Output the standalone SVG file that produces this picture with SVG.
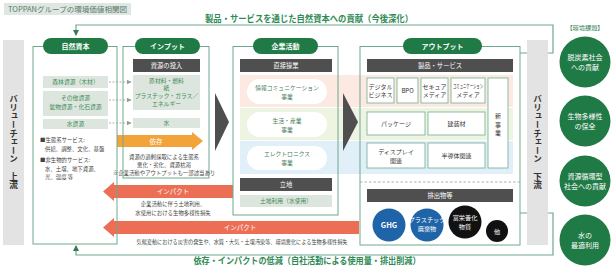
<svg xmlns="http://www.w3.org/2000/svg" width="616" height="269" viewBox="0 0 616 269">
<defs>
<style>
text{font-family:"Noto Sans CJK JP","Noto Sans",sans-serif;}
.box{fill:none;stroke:#6fa88e;stroke-width:1;}
.pill{fill:#1f7a45;}
.pillt{fill:#fff;font-size:7px;font-weight:bold;text-anchor:middle;}
.hdr{fill:#4f4f4f;}
.hdrt{fill:#fff;font-size:6.3px;text-anchor:middle;}
.item{fill:#dce6de;}
.itemt{fill:#3f8a57;font-size:5.8px;text-anchor:middle;}
.prod{fill:#fff;stroke:#7fb59a;stroke-width:0.9;}
.prodt{fill:#333;font-size:6px;text-anchor:middle;}
.bizp{fill:#fff;}
.bizt{fill:#4a7d5a;font-size:5.8px;text-anchor:middle;}
.small{fill:#444;font-size:5.4px;}
.conn{fill:none;stroke:#6fa88e;stroke-width:1.2;}
.dash{fill:none;stroke:#9a9a9a;stroke-width:0.8;stroke-dasharray:2 1.5;}
.arwt{fill:#fff;font-size:6.5px;text-anchor:middle;}
.bar{fill:#e3e3e3;}
.vt{fill:#333;font-size:8.6px;font-weight:bold;writing-mode:vertical-rl;text-anchor:middle;}
.issue{fill:#1f7a45;}
.issuet{fill:#fff;font-size:7px;text-anchor:middle;}
.emt{fill:#fff;font-size:6.2px;text-anchor:middle;}
.chev{fill:#4f4f4f;}
.band{stroke:none;}
</style>
<marker id="ahG" markerWidth="6" markerHeight="6" refX="5" refY="3" orient="auto" markerUnits="userSpaceOnUse"><path d="M0,0 L6,3 L0,6 Z" fill="#2f7f52"/></marker>
<marker id="ahGray" markerWidth="5" markerHeight="5" refX="4.5" refY="2.5" orient="auto" markerUnits="userSpaceOnUse"><path d="M0,0 L5,2.5 L0,5 Z" fill="#9a9a9a"/></marker>
</defs>

<rect width="616" height="269" fill="#fff"/>

<g id="title">
<rect x="4" y="3" width="127" height="12" fill="#dfe7e2"/>
<text x="8" y="12" font-size="7.2" fill="#557a66" textLength="119" lengthAdjust="spacingAndGlyphs">TOPPANグループの環境価値相関図</text>
</g>

<g id="bands">
<rect class="band" x="240" y="75" width="273" height="32" fill="#fce9e2"/>
<rect class="band" x="240" y="108" width="273" height="32" fill="#eef4e2"/>
<rect class="band" x="240" y="141" width="273" height="33" fill="#e1eff9"/>
</g>

<g id="connectors">
<path class="conn" d="M520,53 H553 V25 H76 V35" marker-end="url(#ahG)"/>
<text x="309" y="22" font-size="9" font-weight="bold" fill="#2f8a55" text-anchor="middle" textLength="208" lengthAdjust="spacingAndGlyphs">製品・サービスを通じた自然資本への貢献（今後深化）</text>
<path class="conn" d="M520,213 H553 V255 H76 V246" marker-end="url(#ahG)"/>
<text x="307" y="264" font-size="9" font-weight="bold" fill="#2f8a55" text-anchor="middle" textLength="227" lengthAdjust="spacingAndGlyphs">依存・インパクトの低減（自社活動による使用量・排出削減）</text>
<path class="dash" d="M109,82 H131" marker-end="url(#ahGray)"/>
<path class="dash" d="M109,100 H131" marker-end="url(#ahGray)"/>
<path class="dash" d="M109,123 H131" marker-end="url(#ahGray)"/>
<polygon class="chev" points="215,93 229,122 215,151"/>
<polygon class="chev" points="343,93 358,122 343,151"/>
<g id="dependency">
<polygon points="117,135 192,135 192,132 203,141 192,150 192,147 117,147" fill="#f2a33a"/>
<text class="arwt" x="156" y="143.5">依存</text>
</g>
<g id="impact1">
<polygon points="103,191.5 114,182 114,185 233,185 233,198 114,198 114,201" fill="#ec6f55"/>
<text class="arwt" x="173" y="194">インパクト</text>
</g>
<g id="impact2">
<polygon points="103,227.5 114,218 114,221 359,221 359,234 114,234 114,237" fill="#ec6f55"/>
<text class="arwt" x="240" y="230">インパクト</text>
</g>
</g>

<g id="vc-upstream">
<rect class="bar" x="3" y="40" width="21" height="205"/>
<text class="vt" x="13.5" y="142">バリューチェーン　上流</text>
</g>

<g id="natural-capital">
<rect class="box" x="33" y="46.5" width="84" height="197.5"/>
<rect class="pill" x="43" y="38" width="65" height="16" rx="8"/>
<text class="pillt" x="75.5" y="48.5">自然資本</text>
<rect class="item" x="43" y="76" width="65" height="12"/>
<text class="itemt" x="75.5" y="84">森林資源（木材）</text>
<rect class="item" x="43" y="91" width="65" height="25"/>
<text class="itemt" x="75.5" y="100">その他資源</text>
<text class="itemt" x="75.5" y="108.5" font-size="4.8">鉱物資源・化石資源</text>
<rect class="item" x="43" y="119" width="65" height="10"/>
<text class="itemt" x="75.5" y="126">水資源</text>
<text class="small" x="40" y="142" fill="#2f5a44">■生態系サービス:</text>
<text class="small" x="45" y="151">供給、調整、文化、基盤</text>
<text class="small" x="40" y="162" fill="#2f5a44">■非生物的サービス:</text>
<text class="small" x="45" y="170.5">水、土壌、地下資源、</text>
<text class="small" x="45" y="179">光、温度 等</text>
</g>

<g id="input">
<rect class="box" x="123" y="46.5" width="86" height="131.5"/>
<rect class="pill" x="135" y="38" width="65" height="16" rx="8"/>
<text class="pillt" x="167.5" y="48.5">インプット</text>
<rect class="hdr" x="133" y="59" width="67" height="13"/>
<text class="hdrt" x="166.5" y="68">資源の投入</text>
<rect class="item" x="133" y="75" width="67" height="35"/>
<text class="itemt" x="166.5" y="82.5" font-size="5.3">原材料・燃料</text>
<text class="itemt" x="166.5" y="90" font-size="5.3">紙</text>
<text class="itemt" x="166.5" y="97.5" font-size="4.6">プラスチック・ガラス／</text>
<text class="itemt" x="166.5" y="105.5" font-size="4.6">エネルギー</text>
<rect class="item" x="133" y="118" width="67" height="10"/>
<text class="itemt" x="166.5" y="125">水</text>
<text class="small" x="164" y="159" text-anchor="middle" fill="#333">資源の過剰採取による生態系</text>
<text class="small" x="164" y="166.5" text-anchor="middle" fill="#333">悪化・劣化、資源枯渇</text>
<text class="small" x="164" y="174.5" text-anchor="middle" font-size="4.3" fill="#333">※企業活動やアウトプットも一部該当あり</text>
</g>

<g id="impact-notes">
<text class="small" x="173" y="206" text-anchor="middle" fill="#333">企業活動に伴う土地利用、</text>
<text class="small" x="173" y="214.5" text-anchor="middle" fill="#333">水使用における生物多様性損失</text>
<text class="small" x="242" y="243.5" text-anchor="middle" fill="#333" textLength="211" lengthAdjust="spacingAndGlyphs">気候変動における災害の発生や、水質・大気・土壌汚染等、環境悪化による生物多様性損失</text>
</g>

<g id="corporate">
<rect class="box" x="233" y="46.5" width="105" height="168.5"/>
<rect class="pill" x="253" y="38" width="65" height="16" rx="8"/>
<text class="pillt" x="285.5" y="48.5">企業活動</text>
<rect class="hdr" x="240" y="59" width="92" height="13"/>
<text class="hdrt" x="286" y="68">直接操業</text>
<rect class="bizp" x="247" y="79" width="80" height="25" rx="12.5"/>
<text class="bizt" x="287" y="89.5">情報コミュニケーション</text>
<text class="bizt" x="287" y="98.5">事業</text>
<rect class="bizp" x="247" y="112" width="80" height="25" rx="12.5"/>
<text class="bizt" x="287" y="122.5">生活・産業</text>
<text class="bizt" x="287" y="131.5">事業</text>
<rect class="bizp" x="247" y="146" width="80" height="24" rx="12"/>
<text class="bizt" x="287" y="156">エレクトロニクス</text>
<text class="bizt" x="287" y="165">事業</text>
<rect class="hdr" x="240" y="178" width="92" height="13"/>
<text class="hdrt" x="286" y="187">立地</text>
<rect class="item" x="240" y="195" width="92" height="12"/>
<text class="itemt" x="286" y="203">土地利用（水使用）</text>
</g>

<g id="output">
<rect class="box" x="360" y="46.5" width="160" height="198.5"/>
<rect class="pill" x="403" y="38" width="79" height="16" rx="8"/>
<text class="pillt" x="442.5" y="48.5">アウトプット</text>
<rect class="hdr" x="367" y="59" width="146" height="13"/>
<text class="hdrt" x="440" y="68">製品・サービス</text>
<rect class="prod" x="367" y="78" width="27" height="25"/>
<text class="prodt" x="380.5" y="88.5">デジタル</text>
<text class="prodt" x="380.5" y="97">ビジネス</text>
<rect class="prod" x="397" y="78" width="21" height="25"/>
<text class="prodt" x="407.5" y="93" font-family="Liberation Serif, serif">BPO</text>
<rect class="prod" x="421" y="78" width="27" height="25"/>
<text class="prodt" x="434.5" y="88.5">セキュア</text>
<text class="prodt" x="434.5" y="97">メディア</text>
<rect class="prod" x="451" y="78" width="34" height="25"/>
<text class="prodt" x="468" y="88" font-size="4.3" textLength="30" lengthAdjust="spacingAndGlyphs">コミュニケーション</text>
<text class="prodt" x="468" y="97">メディア</text>
<rect class="prod" x="488" y="78" width="20" height="90"/>
<text class="prodt" x="498" font-size="6.5"><tspan x="498" y="118">新</tspan><tspan x="498" y="126.5">事</tspan><tspan x="498" y="135">業</tspan></text>
<rect class="prod" x="367" y="112" width="58" height="23"/>
<text class="prodt" x="396" y="126">パッケージ</text>
<rect class="prod" x="428" y="112" width="57" height="23"/>
<text class="prodt" x="456.5" y="126">建装材</text>
<rect class="prod" x="367" y="143" width="58" height="25"/>
<text class="prodt" x="396" y="153.5">ディスプレイ</text>
<text class="prodt" x="396" y="162.5">関連</text>
<rect class="prod" x="428" y="143" width="57" height="25"/>
<text class="prodt" x="456.5" y="158">半導体関連</text>
<line x1="360" y1="182" x2="520" y2="182" stroke="#999" stroke-width="0.8" stroke-dasharray="2.5 2"/>
<rect class="hdr" x="367" y="189" width="146" height="13"/>
<text class="hdrt" x="440" y="198">排出物等</text>
<circle cx="389" cy="225" r="16.5" fill="#1f64a8"/>
<text x="389" y="228" fill="#fff" font-size="7.5" font-weight="bold" text-anchor="middle" font-family="Liberation Serif, serif">GHG</text>
<circle cx="427" cy="225" r="16.5" fill="#1f64a8"/>
<text class="emt" x="427" y="222">プラスチック</text>
<text class="emt" x="427" y="231">廃棄物</text>
<circle cx="465" cy="222" r="16.5" fill="#111"/>
<text class="emt" x="465" y="219.5">富栄養化</text>
<text class="emt" x="465" y="228.5">物質</text>
<circle cx="497" cy="231" r="11" fill="#111"/>
<text class="emt" x="497" y="233.5">他</text>
</g>

<g id="vc-downstream">
<rect class="bar" x="527" y="40" width="21" height="205"/>
<text class="vt" x="537.5" y="142">バリューチェーン　下流</text>
</g>

<g id="issues">
<text x="585" y="30" font-size="6.2" fill="#2f7f52" text-anchor="middle">【環境課題】</text>
<g id="issue-decarbon">
<circle class="issue" cx="585" cy="62" r="25.5"/>
<text class="issuet" x="585" y="59.5">脱炭素社会</text>
<text class="issuet" x="585" y="69.5">への貢献</text>
</g>
<g id="issue-biodiversity">
<circle class="issue" cx="585" cy="121" r="25.5"/>
<text class="issuet" x="585" y="118.5">生物多様性</text>
<text class="issuet" x="585" y="128.5">の保全</text>
</g>
<g id="issue-circular">
<circle class="issue" cx="585" cy="181" r="25.5"/>
<text class="issuet" x="585" y="178.5">資源循環型</text>
<text class="issuet" x="585" y="188.5">社会への貢献</text>
</g>
<g id="issue-water">
<circle class="issue" cx="585" cy="240" r="25.5"/>
<text class="issuet" x="585" y="237.5">水の</text>
<text class="issuet" x="585" y="247.5">最適利用</text>
</g>
</g>
</svg>
